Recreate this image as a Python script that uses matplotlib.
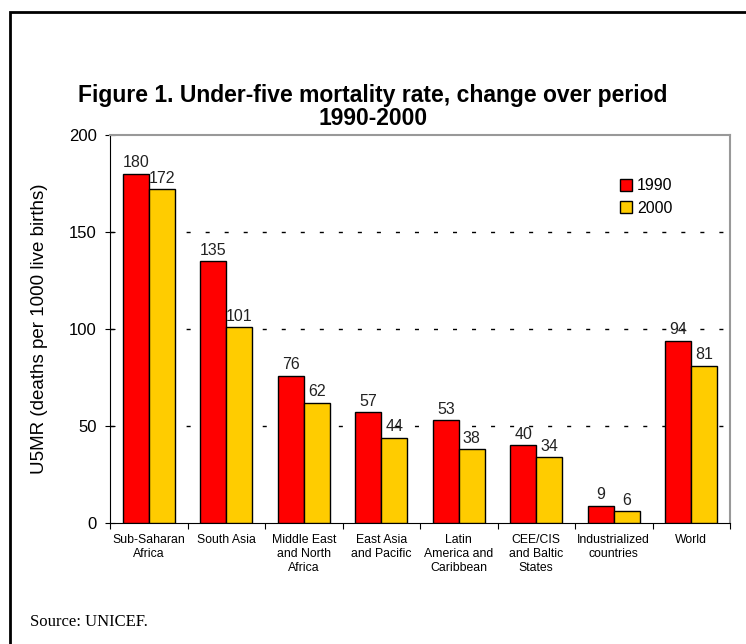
import numpy as np
import matplotlib.pyplot as plt
from matplotlib.patches import Rectangle

regions = ["Sub-Saharan\nAfrica", "South Asia", "Middle East\nand North\nAfrica",
           "East Asia\nand Pacific", "Latin\nAmerica and\nCaribbean",
           "CEE/CIS\nand Baltic\nStates", "Industrialized\ncountries", "World"]
u5mr_1990 = [180, 135, 76, 57, 53, 40, 9, 94]
u5mr_2000 = [172, 101, 62, 44, 38, 34, 6, 81]
y_ticks = [0, 50, 100, 150, 200]

W, H = 746, 644
fig = plt.figure(figsize=(W / 100, H / 100), dpi=100)

# outer frame (right/bottom edges fall outside the picture)
fig.patches.append(Rectangle((10 / W, -0.05), 1.0, 1 - 12 / H + 0.05,
                             transform=fig.transFigure, fill=False,
                             edgecolor="black", linewidth=2))

ax = fig.add_axes([110 / W, 1 - 523 / H, (730 - 110) / W, (523 - 135) / H])

x = np.arange(len(regions))
w = 0.335
b1 = ax.bar(x - w / 2, u5mr_1990, w, color="#FF0000", edgecolor="black",
            linewidth=1, label="1990", zorder=3)
b2 = ax.bar(x + w / 2, u5mr_2000, w, color="#FFCC00", edgecolor="black",
            linewidth=1, label="2000", zorder=3)

for bars, vals in ((b1, u5mr_1990), (b2, u5mr_2000)):
    for rect, v in zip(bars, vals):
        ax.annotate(str(v), (rect.get_x() + rect.get_width() / 2, v),
                    xytext=(0, 2.5), textcoords="offset points",
                    ha="center", va="bottom", fontsize=11.5,
                    family="Liberation Sans", color="#222222")

ax.set_xlim(-0.5, len(regions) - 0.5)
ax.set_ylim(0, 200)
ax.set_yticks(y_ticks)
ax.set_yticklabels([str(t) for t in y_ticks], fontsize=12, family="Liberation Sans")
ax.set_xticks(np.arange(len(regions) + 1) - 0.5)
ax.set_xticklabels([])
ax.set_xticks(x, minor=True)
ax.set_xticklabels(regions, minor=True, fontsize=8.8, family="Liberation Sans",
                   linespacing=1.2, va="top")
ax.tick_params(axis="x", which="minor", length=0, pad=8)
ax.tick_params(axis="x", which="major", length=4, direction="out")
ax.tick_params(axis="y", length=7, direction="inout", pad=6)

for yv in (50, 100, 150):
    ax.axhline(yv, color="black", linewidth=1, linestyle=(0, (2.9, 10.8)), zorder=1)

ax.spines["top"].set_color("#999999")
ax.spines["right"].set_color("#999999")
ax.spines["top"].set_linewidth(1.5)
ax.spines["right"].set_linewidth(1.5)

ax.set_ylabel("U5MR (deaths per 1000 live births)", fontsize=13.5,
              family="Liberation Sans", labelpad=15)

leg = ax.legend(loc="upper left", bbox_to_anchor=(0.80, 0.925), frameon=False,
                prop={"family": "Liberation Sans", "size": 11.5},
                handlelength=0.75, handleheight=0.75, handletextpad=0.3,
                labelspacing=0.45)

fig.text(0.5, 1 - 107 / H, "Figure 1. Under-five mortality rate, change over period\n1990-2000",
         ha="center", va="center", fontsize=16.5, fontweight="bold",
         family="Liberation Sans", linespacing=1.0)

fig.text(30 / W, 1 - 622 / H, "Source: UNICEF.", ha="left", va="center",
         fontsize=12, family="Liberation Serif")

fig.savefig("out.png", dpi=100)
